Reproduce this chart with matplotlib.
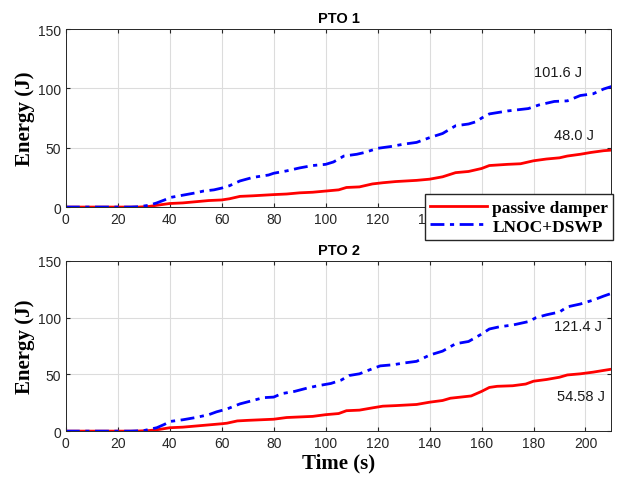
import matplotlib
matplotlib.use("Agg")
import matplotlib.pyplot as plt

plt.rcParams["font.family"] = ["Liberation Sans", "DejaVu Sans"]

# PTO 1
t1_lnoc = [0, 25, 28, 32, 35, 38, 40, 45, 50, 53, 57, 60, 63, 67, 72, 78, 80, 85, 90, 95, 100, 103, 107,
           112, 115, 120, 125, 130, 135, 140, 145, 150, 155, 158, 160, 163, 170, 178, 182, 188, 193, 198,
           203, 207, 210]
e1_lnoc = [0, 0, 0.3, 1.5, 3.5, 6, 8, 10, 12, 13.5, 14.5, 16, 18, 22, 25, 27, 28.5, 30.5, 33, 35, 36, 38,
           43, 44.5, 46, 49.5, 51, 53, 54.5, 58.5, 62, 68.5, 70, 72, 75, 78.5, 81, 83, 86, 89, 89.5, 94,
           95.5, 99.5, 101.6]
t1_pass = [0, 28, 32, 35, 40, 45, 50, 55, 60, 63, 67, 72, 80, 85, 90, 95, 100, 105, 108, 113, 118, 122,
           127, 135, 140, 145, 150, 155, 160, 163, 170, 175, 180, 185, 190, 193, 198, 202, 207, 210]
e1_pass = [0, 0, 0.5, 1.5, 3, 3.5, 4.5, 5.5, 6, 7, 9, 9.5, 10.5, 11, 12, 12.5, 13.5, 14.5, 16.5, 17,
           19.5, 20.5, 21.5, 22.5, 23.5, 25.5, 29, 30, 32.5, 35, 36, 36.5, 39, 40.5, 41.5, 43, 44.5, 46,
           47.5, 48.0]

# PTO 2
t2_lnoc = [0, 25, 30, 35, 38, 40, 45, 50, 55, 58, 62, 67, 72, 76, 80, 83, 88, 93, 97, 102, 106, 109, 113,
           118, 121, 126, 130, 135, 140, 145, 150, 155, 160, 163, 167, 172, 178, 181, 185, 190, 193, 198,
           203, 207, 210]
e2_lnoc = [0, 0, 0.5, 3, 6, 8.5, 10, 12, 14.5, 17, 19.5, 24, 27, 29.5, 30, 33, 35, 38, 40, 42, 45, 49,
           50.5, 55, 57.5, 58.5, 60, 61.5, 67, 70.5, 77, 79, 85.5, 90, 92, 93.5, 96.5, 100, 102.5, 105,
           109.5, 112, 115.5, 119, 121.4]
t2_pass = [0, 27, 32, 36, 40, 45, 50, 55, 60, 62, 66, 70, 75, 80, 85, 90, 95, 100, 105, 108, 113, 118,
           122, 127, 135, 140, 145, 148, 152, 156, 160, 163, 166, 172, 177, 180, 185, 190, 193, 198, 203,
           207, 210]
e2_pass = [0, 0, 0.5, 1.5, 3, 3.5, 4.5, 5.5, 6.5, 7, 9, 9.5, 10, 10.5, 12, 12.5, 13, 14.5, 15.5, 18,
           18.5, 20.5, 22, 22.5, 23.5, 25.5, 27, 29, 30, 31, 35, 38.5, 39.5, 40, 41.5, 44, 45.5, 47.5,
           49.5, 50.5, 52, 53.5, 54.58]

xticks = [0, 20, 40, 60, 80, 100, 120, 140, 160, 180, 200]
yticks = [0, 50, 100, 150]

serif_bold = dict(family="Liberation Serif", weight="bold")

fig = plt.figure(figsize=(6.33, 4.85), dpi=100)
ax1 = fig.add_axes([0.104, 0.571, 0.862, 0.367])
ax2 = fig.add_axes([0.104, 0.109, 0.862, 0.351])

panels = [
    (ax1, "PTO 1", t1_pass, e1_pass, t1_lnoc, e1_lnoc,
     [(180, 114, "101.6 J"), (188, 61, "48.0 J")]),
    (ax2, "PTO 2", t2_pass, e2_pass, t2_lnoc, e2_lnoc,
     [(188, 93, "121.4 J"), (189, 31, "54.58 J")]),
]

for ax, title, tp, ep, tl, el, notes in panels:
    ax.plot(tp, ep, color="red", lw=2, label="passive damper")
    ax.plot(tl, el, color="blue", lw=2, dashes=(5, 2, 1.5, 2), label="LNOC+DSWP")
    ax.set_xlim(0, 210)
    ax.set_ylim(0, 150)
    ax.set_xticks(xticks)
    ax.set_yticks(yticks)
    ax.grid(True, color="#dcdcdc", lw=0.8)
    ax.set_axisbelow(True)
    ax.tick_params(direction="in", labelsize=10, colors="#262626", length=3, top=True, right=True)
    for s in ax.spines.values():
        s.set_color("#262626")
        s.set_linewidth(0.7)
    ax.set_title(title, fontsize=10.5, fontweight="bold", pad=5)
    ax.set_ylabel("Energy (J)", fontsize=15, labelpad=2, **serif_bold)
    for x, y, s in notes:
        ax.text(x, y, s, fontsize=10.5, color="#1a1a1a", va="center")

ax2.set_xlabel("Time (s)", fontsize=15, labelpad=2, **serif_bold)

h, l = ax1.get_legend_handles_labels()
fig.legend(h, l, loc="upper right", bbox_to_anchor=(0.969, 0.597), fancybox=False,
           framealpha=1, edgecolor="#262626", borderpad=0.3, labelspacing=0.15,
           handlelength=3.3, handletextpad=0.3, borderaxespad=0,
           prop=dict(family="Liberation Serif", weight="bold", size=12.5))

fig.savefig("out.png", dpi=100)
